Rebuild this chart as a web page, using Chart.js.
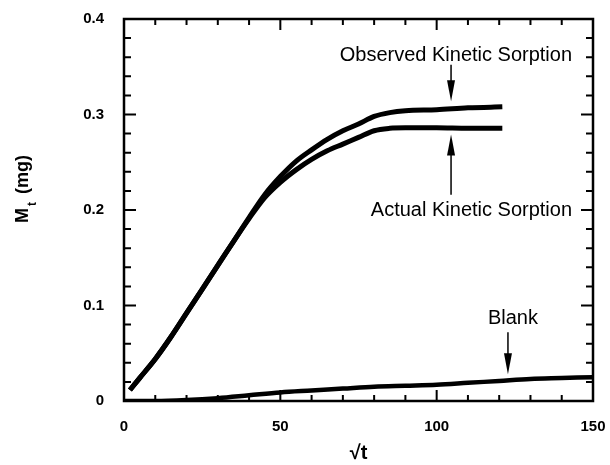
<!DOCTYPE html>
<html lang="en">
<head>
  <meta charset="UTF-8">
  <title>Kinetic Sorption</title>
  <style>
    body {
      margin: 0;
      background-color: #ffffff;
    }
    #wrap {
      width: 610px;
      height: 465px;
    }
  </style>
</head>
<body>
  <div id="wrap"><canvas id="chart" width="610" height="465"></canvas></div>

  <script src="https://cdn.jsdelivr.net/npm/chart.js"></script>
  <script>
    // sqrt(t) values and M_t (mg)
    const observedX = [1.9, 5, 10, 15, 20, 25, 30, 35, 40, 45, 50, 55, 60, 65, 70, 75, 80, 85, 90, 100, 110, 121];
    const observedY = [0.0115, 0.024, 0.044, 0.067, 0.092, 0.117, 0.142, 0.167, 0.192, 0.216, 0.235, 0.251, 0.263, 0.274, 0.283, 0.290, 0.298, 0.302, 0.304, 0.305, 0.307, 0.308];

    const actualX = [1.9, 5, 10, 15, 20, 25, 30, 35, 40, 45, 50, 55, 60, 65, 70, 75, 80, 85, 90, 100, 110, 121];
    const actualY = [0.0115, 0.024, 0.044, 0.067, 0.092, 0.117, 0.142, 0.167, 0.191, 0.213, 0.229, 0.242, 0.253, 0.262, 0.269, 0.276, 0.283, 0.2855, 0.286, 0.286, 0.2855, 0.2855];

    const blankX = [0, 10, 20, 30, 40, 50, 60, 70, 80, 90, 100, 110, 120, 130, 140, 150];
    const blankY = [0, 0, 0.001, 0.003, 0.006, 0.009, 0.011, 0.013, 0.015, 0.016, 0.017, 0.019, 0.021, 0.023, 0.024, 0.025];

    const xTicks = [0, 50, 100, 150];
    const yTicks = [0, 0.1, 0.2, 0.3, 0.4];

    // labels with arrows, in data units
    const notes = [
      { text: 'Observed Kinetic Sorption', tx: 143.3, ty: 0.362, ax: 104.6, from: 0.352, to: 0.314 },
      { text: 'Actual Kinetic Sorption', tx: 143.3, ty: 0.200, ax: 104.6, from: 0.216, to: 0.279 },
      { text: 'Blank', tx: 124.4, ty: 0.0864, ax: 122.8, from: 0.072, to: 0.028 }
    ];

    const toPoints = (xs, ys) => xs.map((x, i) => ({ x: x, y: ys[i] }));

    const font = '"Liberation Sans", Arial, sans-serif';

    // frame with inward ticks on all four sides, y title, notes
    const framePlugin = {
      id: 'frame',
      afterDraw(chart) {
        const ctx = chart.ctx;
        const xs = chart.scales.x;
        const ys = chart.scales.y;
        const a = chart.chartArea;
        ctx.save();
        ctx.strokeStyle = '#000';
        ctx.lineWidth = 2.5;
        ctx.strokeRect(a.left, a.top, a.right - a.left, a.bottom - a.top);

        ctx.lineWidth = 2;
        for (let v = 0; v <= 150; v += 10) {
          const px = xs.getPixelForValue(v);
          const len = v % 50 === 0 ? 11 : 6;
          ctx.beginPath();
          ctx.moveTo(px, a.bottom); ctx.lineTo(px, a.bottom - len);
          ctx.moveTo(px, a.top); ctx.lineTo(px, a.top + len);
          ctx.stroke();
        }
        for (let i = 0; i <= 20; i++) {
          const py = ys.getPixelForValue(i * 0.02);
          const len = i % 5 === 0 ? 12 : 7;
          ctx.beginPath();
          ctx.moveTo(a.left, py); ctx.lineTo(a.left + len, py);
          ctx.moveTo(a.right, py); ctx.lineTo(a.right - len, py);
          ctx.stroke();
        }

        // y axis title M_t (mg)
        ctx.fillStyle = '#000';
        ctx.translate(28, 223);
        ctx.rotate(-Math.PI / 2);
        ctx.textAlign = 'left';
        ctx.textBaseline = 'alphabetic';
        ctx.font = 'bold 18px ' + font;
        ctx.fillText('M', 0, 0);
        let w = ctx.measureText('M').width;
        ctx.font = 'bold 12px ' + font;
        ctx.fillText('t', w + 2, 8);
        w += 2 + ctx.measureText('t').width + 8;
        ctx.font = 'bold 18px ' + font;
        ctx.fillText('(mg)', w, 0);
        ctx.setTransform(1, 0, 0, 1, 0, 0);

        // notes and arrows
        ctx.font = '20px ' + font;
        ctx.textBaseline = 'middle';
        notes.forEach(n => {
          ctx.textAlign = n.text === 'Blank' ? 'center' : 'right';
          ctx.fillText(n.text, xs.getPixelForValue(n.tx), ys.getPixelForValue(n.ty));
          const px = xs.getPixelForValue(n.ax);
          const y0 = ys.getPixelForValue(n.from);
          const y1 = ys.getPixelForValue(n.to);
          const dir = y1 > y0 ? 1 : -1;
          ctx.lineWidth = 1.5;
          ctx.beginPath();
          ctx.moveTo(px, y0); ctx.lineTo(px, y1 - dir * 18);
          ctx.stroke();
          ctx.beginPath();
          ctx.moveTo(px, y1);
          ctx.lineTo(px - 4, y1 - dir * 21);
          ctx.lineTo(px + 4, y1 - dir * 21);
          ctx.closePath();
          ctx.fill();
        });
        ctx.restore();
      }
    };

    const lineStyle = {
      showLine: true,
      borderColor: '#000',
      borderWidth: 5,
      pointRadius: 0,
      cubicInterpolationMode: 'monotone',
      fill: false
    };

    new Chart(document.getElementById('chart'), {
      type: 'scatter',
      data: {
        datasets: [
          Object.assign({ label: 'Observed Kinetic Sorption', data: toPoints(observedX, observedY) }, lineStyle),
          Object.assign({ label: 'Actual Kinetic Sorption', data: toPoints(actualX, actualY) }, lineStyle),
          Object.assign({ label: 'Blank', data: toPoints(blankX, blankY) }, lineStyle, { borderWidth: 4.5 })
        ]
      },
      options: {
        responsive: false,
        animation: false,
        layout: { padding: { left: 0, right: 17, top: 19, bottom: 0 } },
        plugins: {
          legend: { display: false },
          tooltip: { enabled: false }
        },
        scales: {
          x: {
            type: 'linear',
            min: 0,
            max: 150,
            grid: { display: false },
            border: { display: false },
            afterBuildTicks: s => { s.ticks = xTicks.map(v => ({ value: v })); },
            afterFit: s => { s.height = 64; s.paddingLeft = 0; s.paddingRight = 0; },
            ticks: {
              color: '#000',
              padding: 9,
              font: { family: font, size: 15, weight: 'bold' }
            },
            title: {
              display: true,
              text: '√t',
              color: '#000',
              padding: { top: 0, bottom: 0 },
              font: { family: font, size: 20, weight: 'bold' }
            }
          },
          y: {
            type: 'linear',
            min: 0,
            max: 0.4,
            grid: { display: false },
            border: { display: false },
            afterBuildTicks: s => { s.ticks = yTicks.map(v => ({ value: v })); },
            afterFit: s => { s.width = 124; s.paddingTop = 0; s.paddingBottom = 0; },
            ticks: {
              color: '#000',
              padding: 12,
              font: { family: font, size: 15, weight: 'bold' },
              callback: v => String(v)
            }
          }
        }
      },
      plugins: [framePlugin]
    });
  </script>
</body>
</html>
